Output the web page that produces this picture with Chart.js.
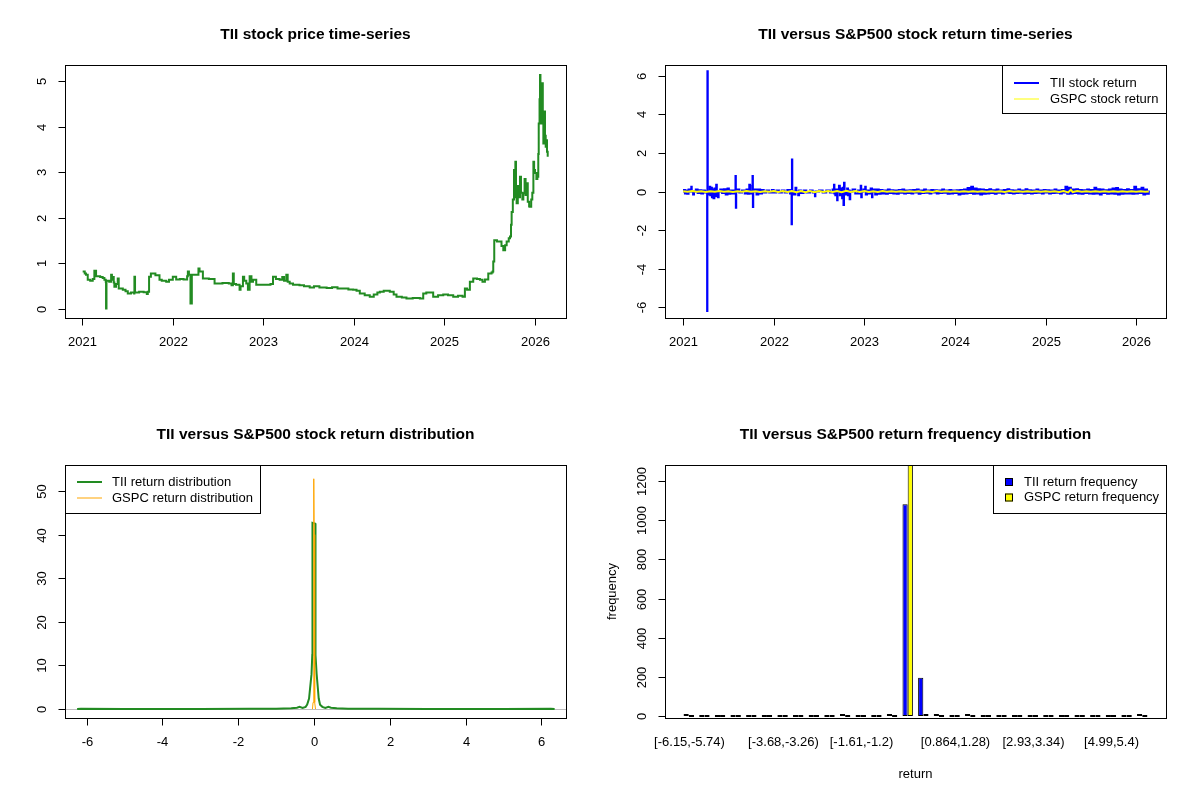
<!DOCTYPE html>
<html>
<head>
<meta charset="utf-8">
<title>TII versus S&amp;P500</title>
<script src="https://cdn.jsdelivr.net/npm/chart.js@4.4.1/dist/chart.umd.min.js"></script>
<style>
  html, body { margin: 0; padding: 0; background: #fff; }
  #wrap { position: relative; width: 1200px; height: 800px; }
  #wrap canvas { position: absolute; }
</style>
</head>
<body>
<div id="wrap">
  <canvas id="priceChart" width="600" height="400" style="left:0;top:0"></canvas>
  <canvas id="returnChart" width="600" height="400" style="left:600px;top:0"></canvas>
  <canvas id="densityChart" width="600" height="400" style="left:0;top:400px"></canvas>
  <canvas id="freqChart" width="600" height="400" style="left:600px;top:400px"></canvas>
</div>
<script>
"use strict";

// ---- price series: [decimal year, close] ----
const priceSeries = [
  [2021.007, 0.82], [2021.030, 0.78], [2021.044, 0.75], [2021.063, 0.64], [2021.090, 0.62],
  [2021.118, 0.66], [2021.136, 0.84], [2021.155, 0.72], [2021.200, 0.70], [2021.228, 0.68],
  [2021.247, 0.64], [2021.262, 0.60], [2021.265, 0.01], [2021.270, 0.62], [2021.300, 0.60],
  [2021.321, 0.75], [2021.330, 0.64], [2021.339, 0.70], [2021.350, 0.58], [2021.357, 0.49],
  [2021.375, 0.55], [2021.394, 0.67], [2021.405, 0.45], [2021.450, 0.42], [2021.480, 0.39],
  [2021.505, 0.34], [2021.540, 0.36], [2021.575, 0.34], [2021.578, 0.71], [2021.585, 0.36],
  [2021.630, 0.38], [2021.680, 0.37], [2021.715, 0.33], [2021.726, 0.38], [2021.740, 0.71],
  [2021.760, 0.78], [2021.810, 0.74], [2021.855, 0.64], [2021.880, 0.62], [2021.929, 0.60],
  [2021.960, 0.64], [2022.002, 0.71], [2022.039, 0.65], [2022.080, 0.66], [2022.120, 0.65],
  [2022.160, 0.72], [2022.168, 0.82], [2022.180, 0.75], [2022.197, 0.12], [2022.212, 0.75],
  [2022.285, 0.89], [2022.297, 0.82], [2022.334, 0.67], [2022.400, 0.66], [2022.463, 0.56],
  [2022.550, 0.57], [2022.620, 0.56], [2022.650, 0.52], [2022.665, 0.78], [2022.675, 0.55],
  [2022.700, 0.53], [2022.739, 0.42], [2022.750, 0.50], [2022.776, 0.71], [2022.790, 0.62],
  [2022.813, 0.56], [2022.831, 0.42], [2022.850, 0.72], [2022.870, 0.60], [2022.887, 0.64],
  [2022.923, 0.53], [2023.000, 0.53], [2023.080, 0.55], [2023.108, 0.71], [2023.140, 0.66],
  [2023.181, 0.64], [2023.210, 0.70], [2023.230, 0.62], [2023.255, 0.75], [2023.270, 0.60],
  [2023.292, 0.56], [2023.329, 0.53], [2023.400, 0.52], [2023.450, 0.50], [2023.513, 0.47],
  [2023.560, 0.50], [2023.620, 0.47], [2023.700, 0.46], [2023.760, 0.48], [2023.820, 0.45],
  [2023.881, 0.45], [2023.940, 0.43], [2023.992, 0.42], [2024.030, 0.40], [2024.066, 0.34],
  [2024.120, 0.30], [2024.176, 0.27], [2024.220, 0.32], [2024.260, 0.36], [2024.287, 0.38],
  [2024.330, 0.40], [2024.397, 0.38], [2024.440, 0.32], [2024.471, 0.27], [2024.530, 0.25],
  [2024.581, 0.23], [2024.650, 0.24], [2024.729, 0.23], [2024.766, 0.34], [2024.800, 0.36],
  [2024.876, 0.27], [2024.930, 0.30], [2024.987, 0.32], [2025.040, 0.30], [2025.097, 0.27],
  [2025.150, 0.29], [2025.200, 0.27], [2025.226, 0.45], [2025.250, 0.42], [2025.281, 0.60],
  [2025.318, 0.67], [2025.360, 0.66], [2025.392, 0.64], [2025.420, 0.60], [2025.447, 0.65],
  [2025.484, 0.78], [2025.520, 0.80], [2025.532, 0.82], [2025.539, 1.04], [2025.550, 1.51],
  [2025.580, 1.48], [2025.630, 1.38], [2025.650, 1.29], [2025.670, 1.40], [2025.687, 1.48],
  [2025.710, 1.55], [2025.724, 1.59], [2025.735, 1.85], [2025.742, 2.13], [2025.755, 2.40],
  [2025.768, 3.05], [2025.775, 2.50], [2025.783, 3.23], [2025.790, 2.45], [2025.797, 2.32],
  [2025.810, 2.70], [2025.822, 2.45], [2025.834, 2.90], [2025.845, 2.55], [2025.860, 2.40],
  [2025.871, 2.54], [2025.885, 2.85], [2025.896, 2.50], [2025.908, 2.76], [2025.920, 2.35],
  [2025.935, 2.25], [2025.945, 2.24], [2025.958, 2.40], [2025.970, 2.55], [2025.982, 3.23],
  [2025.990, 3.05], [2026.000, 2.98], [2026.015, 2.85], [2026.026, 2.90], [2026.036, 3.40],
  [2026.041, 4.07], [2026.050, 4.60], [2026.055, 5.13], [2026.060, 4.30], [2026.066, 4.07],
  [2026.073, 4.60], [2026.081, 4.95], [2026.086, 4.20], [2026.092, 3.63], [2026.098, 4.00],
  [2026.103, 4.33], [2026.110, 3.80], [2026.118, 3.56], [2026.125, 3.70], [2026.132, 3.45],
  [2026.140, 3.34]
];

// ---- daily returns: [decimal year, return] ----
const tiiReturnSeries = [
  [2021.000, 0], [2021.010, 0.08], [2021.020, -0.1], [2021.030, 0.05], [2021.045, -0.12],
  [2021.060, 0.1], [2021.075, 0], [2021.090, 0.25], [2021.095, 0], [2021.110, -0.15],
  [2021.120, 0], [2021.140, 0.1], [2021.160, -0.08], [2021.180, 0.06], [2021.200, -0.1],
  [2021.220, 0.05], [2021.240, -0.05], [2021.262, 0], [2021.265, -6.2], [2021.268, 6.25],
  [2021.272, 0], [2021.285, -0.15], [2021.295, 0.25], [2021.300, -0.2], [2021.310, 0.2],
  [2021.318, -0.3], [2021.325, 0.1], [2021.335, -0.35], [2021.345, 0.15], [2021.355, -0.25],
  [2021.365, 0.35], [2021.372, 0], [2021.385, -0.3], [2021.392, 0], [2021.410, 0.1],
  [2021.430, -0.08], [2021.450, 0.12], [2021.470, -0.15], [2021.490, 0.15], [2021.505, -0.12],
  [2021.520, 0.05], [2021.540, -0.1], [2021.560, 0.05], [2021.575, 0], [2021.578, 0.8],
  [2021.582, -0.85], [2021.586, 0], [2021.600, 0.1], [2021.620, -0.05], [2021.650, 0.05],
  [2021.680, -0.1], [2021.700, 0.1], [2021.715, -0.12], [2021.730, 0.35], [2021.738, 0],
  [2021.750, -0.1], [2021.762, 0.3], [2021.766, 0.8], [2021.770, -0.8], [2021.774, 0],
  [2021.790, 0.1], [2021.810, -0.15], [2021.830, 0.1], [2021.850, -0.1], [2021.870, 0.08],
  [2021.890, -0.05], [2021.920, 0.05], [2021.950, -0.05], [2021.980, 0.08], [2022.000, -0.05],
  [2022.030, 0.05], [2022.060, -0.05], [2022.090, 0.05], [2022.120, -0.05], [2022.150, 0.08],
  [2022.180, -0.1], [2022.194, 0], [2022.197, -1.7], [2022.201, 1.66], [2022.205, 0],
  [2022.220, -0.15], [2022.240, 0.2], [2022.250, 0], [2022.270, -0.2], [2022.280, 0.05],
  [2022.300, -0.08], [2022.330, 0.05], [2022.360, -0.05], [2022.400, 0.05], [2022.430, -0.05],
  [2022.455, -0.25], [2022.460, 0], [2022.500, 0.05], [2022.540, -0.05], [2022.580, 0.05],
  [2022.620, -0.05], [2022.650, 0.1], [2022.665, 0.35], [2022.670, -0.1], [2022.680, -0.2],
  [2022.690, 0.1], [2022.700, -0.45], [2022.705, 0], [2022.720, 0.3], [2022.730, -0.2],
  [2022.745, 0.15], [2022.755, -0.35], [2022.762, 0.2], [2022.770, -0.7], [2022.776, 0.45],
  [2022.782, 0], [2022.795, -0.15], [2022.810, 0.15], [2022.820, -0.2], [2022.830, 0.05],
  [2022.838, -0.4], [2022.845, 0], [2022.870, 0.1], [2022.900, -0.1], [2022.930, 0.05],
  [2022.950, -0.1], [2022.960, 0.3], [2022.966, -0.3], [2022.972, 0], [2022.990, 0.1],
  [2023.010, 0.25], [2023.016, -0.15], [2023.030, 0.05], [2023.050, -0.1], [2023.070, 0.15],
  [2023.085, -0.3], [2023.090, 0], [2023.100, 0.1], [2023.120, -0.15], [2023.140, 0.1],
  [2023.160, -0.12], [2023.18, 0.08], [2023.20, -0.1], [2023.22, 0.05], [2023.24, -0.12],
  [2023.26, 0.1], [2023.28, -0.08], [2023.30, 0.06], [2023.32, -0.1], [2023.34, 0.05],
  [2023.36, -0.12], [2023.38, 0.08], [2023.40, -0.06], [2023.42, 0.1], [2023.44, -0.1],
  [2023.46, 0.05], [2023.48, -0.08], [2023.50, 0.06], [2023.52, -0.1], [2023.54, 0.08],
  [2023.56, -0.05], [2023.58, 0.1], [2023.60, -0.12], [2023.62, 0.05], [2023.64, -0.08],
  [2023.66, 0.1], [2023.68, -0.06], [2023.70, 0.05], [2023.72, -0.1], [2023.74, 0.08],
  [2023.76, -0.05], [2023.78, 0.06], [2023.80, -0.1], [2023.82, 0.05], [2023.84, -0.08],
  [2023.86, 0.1], [2023.88, -0.06], [2023.90, 0.05], [2023.92, -0.12], [2023.94, 0.08],
  [2023.96, -0.1], [2023.98, 0.05], [2024.00, -0.08], [2024.02, 0.06], [2024.04, -0.15],
  [2024.06, 0.08], [2024.08, -0.12], [2024.10, 0.1], [2024.12, -0.1], [2024.14, 0.18],
  [2024.16, -0.08], [2024.18, 0.25], [2024.20, -0.12], [2024.22, 0.15], [2024.24, -0.1],
  [2024.26, 0.12], [2024.28, -0.15], [2024.30, 0.1], [2024.32, -0.12], [2024.34, 0.08],
  [2024.36, -0.1], [2024.38, 0.12], [2024.40, -0.08], [2024.42, 0.06], [2024.44, -0.12],
  [2024.46, 0.1], [2024.48, -0.06], [2024.50, 0.05], [2024.52, -0.1], [2024.54, 0.08],
  [2024.56, -0.05], [2024.58, 0.12], [2024.60, -0.08], [2024.62, 0.06], [2024.64, -0.1],
  [2024.66, 0.05], [2024.68, -0.08], [2024.70, 0.1], [2024.72, -0.06], [2024.74, 0.05],
  [2024.76, -0.1], [2024.78, 0.12], [2024.80, -0.08], [2024.82, 0.06], [2024.84, -0.1],
  [2024.86, 0.05], [2024.88, -0.08], [2024.90, 0.1], [2024.92, -0.06], [2024.94, 0.05],
  [2024.96, -0.1], [2024.98, 0.08], [2025.00, -0.05], [2025.02, 0.06], [2025.04, -0.1],
  [2025.06, 0.05], [2025.08, -0.08], [2025.10, 0.1], [2025.12, -0.06], [2025.14, 0.05],
  [2025.16, -0.1], [2025.18, 0.08], [2025.20, -0.05], [2025.22, 0.25], [2025.24, -0.12],
  [2025.26, 0.2], [2025.28, -0.1], [2025.30, 0.1], [2025.32, -0.08], [2025.34, 0.12],
  [2025.36, -0.1], [2025.38, 0.08], [2025.40, -0.12], [2025.42, 0.06], [2025.44, -0.08],
  [2025.46, 0.1], [2025.48, -0.1], [2025.50, 0.08], [2025.52, -0.12], [2025.54, 0.2],
  [2025.56, -0.1], [2025.58, 0.12], [2025.60, -0.15], [2025.62, 0.1], [2025.64, -0.08],
  [2025.66, 0.06], [2025.68, -0.12], [2025.70, 0.1], [2025.72, -0.1], [2025.74, 0.15],
  [2025.76, -0.12], [2025.78, 0.18], [2025.80, -0.15], [2025.82, 0.1], [2025.84, -0.12],
  [2025.86, 0.08], [2025.88, -0.1], [2025.90, 0.12], [2025.92, -0.1], [2025.94, 0.08],
  [2025.96, -0.12], [2025.98, 0.25], [2026.00, -0.1], [2026.02, 0.12], [2026.04, -0.08],
  [2026.06, 0.2], [2026.08, -0.15], [2026.10, 0.1], [2026.12, -0.12], [2026.14, 0.05]
];

const gspcReturnSeries = [
  [2021.00, 0.01], [2021.05, -0.015], [2021.10, 0.02], [2021.15, -0.01], [2021.20, 0.015],
  [2021.25, -0.02], [2021.30, 0.01], [2021.35, -0.01], [2021.40, 0.02], [2021.45, -0.015],
  [2021.50, 0.01], [2021.55, -0.02], [2021.60, 0.015], [2021.65, -0.01], [2021.70, 0.02],
  [2021.75, -0.015], [2021.80, 0.01], [2021.85, -0.02], [2021.90, 0.015], [2021.95, -0.01],
  [2022.00, 0.02], [2022.05, -0.03], [2022.10, 0.025], [2022.15, -0.03], [2022.20, 0.03],
  [2022.25, -0.035], [2022.30, 0.025], [2022.35, -0.04], [2022.40, 0.03], [2022.45, -0.035],
  [2022.50, 0.03], [2022.55, -0.025], [2022.60, 0.03], [2022.65, -0.03], [2022.70, 0.025],
  [2022.75, -0.035], [2022.80, 0.04], [2022.85, -0.03], [2022.90, 0.03], [2022.95, -0.025],
  [2023.00, 0.02], [2023.05, -0.02], [2023.10, 0.015], [2023.15, -0.02], [2023.20, 0.02],
  [2023.25, -0.015], [2023.30, 0.01], [2023.35, -0.015], [2023.40, 0.015], [2023.45, -0.01],
  [2023.50, 0.01], [2023.55, -0.015], [2023.60, 0.01], [2023.65, -0.02], [2023.70, 0.015],
  [2023.75, -0.02], [2023.80, 0.02], [2023.85, -0.015], [2023.90, 0.015], [2023.95, -0.01],
  [2024.00, 0.01], [2024.05, -0.01], [2024.10, 0.015], [2024.15, -0.01], [2024.20, 0.01],
  [2024.25, -0.015], [2024.30, 0.01], [2024.35, -0.01], [2024.40, 0.015], [2024.45, -0.01],
  [2024.50, 0.01], [2024.55, -0.02], [2024.60, 0.025], [2024.65, -0.015], [2024.70, 0.01],
  [2024.75, -0.01], [2024.80, 0.015], [2024.85, -0.01], [2024.90, 0.01], [2024.95, -0.015],
  [2025.00, 0.015], [2025.05, -0.01], [2025.10, 0.015], [2025.15, -0.02], [2025.20, 0.02],
  [2025.25, -0.05], [2025.28, 0.09], [2025.30, -0.03], [2025.35, 0.02], [2025.40, -0.015],
  [2025.45, 0.01], [2025.50, -0.01], [2025.55, 0.01], [2025.60, -0.01], [2025.65, 0.015],
  [2025.70, -0.01], [2025.75, 0.01], [2025.80, -0.015], [2025.85, 0.015], [2025.90, -0.01],
  [2025.95, 0.01], [2026.00, -0.01], [2026.05, 0.015], [2026.10, -0.01], [2026.14, 0.005]
];

// ---- kernel densities: [return, density] ----
const tiiDensity = [
  [-6.25, 0], [-6.15, 0.05], [-5.0, 0.02], [-3.0, 0.02], [-1.7, 0.05], [-1.0, 0.08],
  [-0.6, 0.15], [-0.45, 0.3], [-0.38, 0.5], [-0.3, 0.25], [-0.22, 0.5], [-0.18, 1.0],
  [-0.13, 2.4], [-0.1, 5.0], [-0.065, 8.0], [-0.045, 12.4], [-0.04, 42.7], [0.035, 42.5],
  [0.04, 12.4], [0.07, 8.0], [0.1, 5.0], [0.125, 2.4], [0.16, 1.0], [0.22, 0.5],
  [0.3, 0.25], [0.38, 0.5], [0.45, 0.3], [0.6, 0.15], [0.9, 0.08], [1.7, 0.05],
  [3.0, 0.02], [5.0, 0.02], [6.25, 0.05], [6.35, 0]
];

const gspcDensity = [
  [-0.04, 0], [-0.025, 1.5], [-0.012, 12], [-0.005, 40], [0, 52.8],
  [0.005, 40], [0.012, 12], [0.025, 1.5], [0.04, 0]
];

// ---- frequency table (30 bins of width ~0.413) ----
const binLabels = [
  '[-6.15,-5.74)', '[-5.74,-5.33)', '[-5.33,-4.91)', '[-4.91,-4.5)', '[-4.5,-4.09)',
  '[-4.09,-3.68)', '[-3.68,-3.26)', '[-3.26,-2.85)', '[-2.85,-2.44)', '[-2.44,-2.03)',
  '[-2.03,-1.61)', '[-1.61,-1.2)', '[-1.2,-0.787)', '[-0.787,-0.374)', '[-0.374,0.039)',
  '[0.039,0.452)', '[0.452,0.864)', '[0.864,1.28)', '[1.28,1.69)', '[1.69,2.1)',
  '[2.1,2.52)', '[2.52,2.93)', '[2.93,3.34)', '[3.34,3.75)', '[3.75,4.17)',
  '[4.17,4.58)', '[4.58,4.99)', '[4.99,5.4)', '[5.4,5.82)', '[5.82,6.23]'
];
const shownBins = [0, 6, 11, 17, 22, 27];
const tiiFreq  = [1, 0, 0, 0, 0, 0, 0, 0, 0, 0, 1, 0, 0, 7, 1081, 195, 8, 0, 1, 0, 0, 0, 0, 0, 0, 0, 0, 0, 0, 1];
const gspcFreq = [0, 0, 0, 0, 0, 0, 0, 0, 0, 0, 0, 0, 0, 0, 1290, 5, 0, 0, 0, 0, 0, 0, 0, 0, 0, 0, 0, 0, 0, 0];

// ---- tick values ----
const yearTicks = [2021, 2022, 2023, 2024, 2025, 2026];
const priceTicks = [0, 1, 2, 3, 4, 5];
const returnTicks = [-6, -4, -2, 0, 2, 4, 6];
const densityXTicks = [-6, -4, -2, 0, 2, 4, 6];
const densityYTicks = [0, 10, 20, 30, 40, 50];
const freqTicks = [0, 200, 400, 600, 800, 1000, 1200];

const FONT = '"Liberation Sans", Arial, sans-serif';
const GREEN = '#228B22', BLUE = '#0000FF', YELLOW = '#FFFF00', ORANGE = '#FFA500';

// R-style frame: box, outward ticks, rotated y labels, title, legend
const rFrame = {
    id: 'rFrame',
    beforeDatasetsDraw(chart, args, opts) {
        if (!opts.zeroLine) return;
        const ctx = chart.ctx, a = chart.chartArea;
        const y = Math.round(chart.scales.y.getPixelForValue(0)) + 0.5;
        ctx.save();
        ctx.strokeStyle = '#bebebe';
        ctx.lineWidth = 1;
        ctx.beginPath();
        ctx.moveTo(a.left, y);
        ctx.lineTo(a.right, y);
        ctx.stroke();
        ctx.restore();
    },
    afterDraw(chart, args, opts) {
        const ctx = chart.ctx, a = chart.chartArea;
        const xs = chart.scales.x, ys = chart.scales.y;
        const L = Math.round(a.left) + 0.5, R = Math.round(a.right) + 0.5;
        const T = Math.round(a.top) + 0.5, B = Math.round(a.bottom) + 0.5;
        const seg = (x1, y1, x2, y2) => { ctx.beginPath(); ctx.moveTo(x1, y1); ctx.lineTo(x2, y2); ctx.stroke(); };

        ctx.save();
        ctx.strokeStyle = '#000';
        ctx.fillStyle = '#000';
        ctx.lineWidth = 1;
        ctx.strokeRect(L, T, R - L, B - T);

        ctx.textAlign = 'center';
        ctx.textBaseline = 'middle';
        ctx.font = 'bold 15.5px ' + FONT;
        ctx.fillText(opts.title, (a.left + a.right) / 2, 35);

        ctx.font = '13px ' + FONT;
        xs.ticks.forEach(t => {
            const x = Math.round(xs.getPixelForValue(t.value)) + 0.5;
            if (opts.xTickMarks !== false) seg(x, B, x, B + 7);
            const lab = opts.xLabels ? opts.xLabels[t.value] : String(t.value);
            if (lab) ctx.fillText(lab, x, a.bottom + 24);
        });
        ys.ticks.forEach(t => {
            const y = Math.round(ys.getPixelForValue(t.value)) + 0.5;
            seg(L - 7, y, L, y);
            ctx.save();
            ctx.translate(a.left - 23, y);
            ctx.rotate(-Math.PI / 2);
            ctx.fillText(String(t.value), 0, 0);
            ctx.restore();
        });
        if (opts.xTitle) ctx.fillText(opts.xTitle, (a.left + a.right) / 2, a.bottom + 56);
        if (opts.yTitle) {
            ctx.save();
            ctx.translate(a.left - 53, (a.top + a.bottom) / 2);
            ctx.rotate(-Math.PI / 2);
            ctx.fillText(opts.yTitle, 0, 0);
            ctx.restore();
        }

        const lg = opts.legend;
        if (lg) {
            const lx0 = lg.left + 0.5, lx1 = lg.right + 0.5;
            ctx.fillStyle = '#fff';
            ctx.fillRect(lx0, T, lx1 - lx0, lg.bottom - T);
            ctx.strokeStyle = '#000';
            ctx.strokeRect(lx0, T, lx1 - lx0, lg.bottom - T);
            ctx.textAlign = 'left';
            lg.items.forEach((it, i) => {
                const y = lg.rows[i];
                if (it.kind === 'box') {
                    ctx.fillStyle = it.color;
                    ctx.fillRect(lg.symX0, y - 4, 8, 8);
                    ctx.strokeStyle = '#000';
                    ctx.strokeRect(lg.symX0 + 0.5, y - 3.5, 7, 7);
                } else {
                    ctx.strokeStyle = it.color;
                    ctx.lineWidth = it.width;
                    seg(lg.symX0, y, lg.symX1, y);
                    ctx.lineWidth = 1;
                }
                ctx.fillStyle = '#000';
                ctx.fillText(it.label, lg.textX, y);
            });
        }
        ctx.restore();
    }
};
Chart.register(rFrame);

function axis(min, max, ticks) {
    return {
        type: 'linear',
        min: min,
        max: max,
        offset: false,
        ticks: { display: false },
        grid: { display: false, offset: false },
        border: { display: false },
        afterBuildTicks: s => { s.ticks = ticks.map(v => ({ value: v })); },
        afterFit: s => { if (s.isHorizontal()) s.height = 82; else s.width = 65; }
    };
}

function baseOptions(scales, frame) {
    return {
        responsive: false,
        animation: false,
        devicePixelRatio: 1,
        layout: { padding: { top: 65, right: 34, left: 0, bottom: 0 } },
        plugins: { legend: { display: false }, tooltip: { enabled: false }, rFrame: frame },
        scales: scales
    };
}

// 1. price time-series
new Chart(document.getElementById('priceChart'), {
    type: 'line',
    data: {
        datasets: [{
            data: priceSeries,
            borderColor: GREEN,
            borderWidth: 2,
            stepped: true,
            pointRadius: 0
        }]
    },
    options: baseOptions(
        { x: axis(2020.812, 2026.342, yearTicks), y: axis(-0.197, 5.351, priceTicks) },
        { title: 'TII stock price time-series' }
    )
});

// 2. return time-series
new Chart(document.getElementById('returnChart'), {
    type: 'line',
    data: {
        datasets: [{
            data: gspcReturnSeries,
            borderColor: YELLOW,
            borderWidth: 2,
            pointRadius: 0,
            order: 0
        }, {
            data: tiiReturnSeries,
            borderColor: BLUE,
            borderWidth: 2,
            stepped: true,
            pointRadius: 0,
            order: 1
        }]
    },
    options: baseOptions(
        { x: axis(2020.80, 2026.33, yearTicks), y: axis(-6.57, 6.57, returnTicks) },
        {
            title: 'TII versus S&P500 stock return time-series',
            legend: {
                left: 402, right: 566, bottom: 113.5, symX0: 414, symX1: 439, textX: 450, rows: [83, 99],
                items: [
                    { label: 'TII stock return', color: BLUE, width: 2 },
                    { label: 'GSPC stock return', color: YELLOW, width: 1 }
                ]
            }
        }
    )
});

// 3. return density
new Chart(document.getElementById('densityChart'), {
    type: 'line',
    data: {
        datasets: [{
            data: gspcDensity,
            borderColor: ORANGE,
            borderWidth: 1,
            pointRadius: 0,
            order: 0
        }, {
            data: tiiDensity,
            borderColor: GREEN,
            borderWidth: 2,
            pointRadius: 0,
            order: 1
        }]
    },
    options: baseOptions(
        { x: axis(-6.57, 6.65, densityXTicks), y: axis(-2.06, 55.96, densityYTicks) },
        {
            title: 'TII versus S&P500 stock return distribution',
            zeroLine: true,
            legend: {
                left: 65, right: 260, bottom: 113.5, symX0: 77, symX1: 102, textX: 112, rows: [82, 98],
                items: [
                    { label: 'TII return distribution', color: GREEN, width: 2 },
                    { label: 'GSPC return distribution', color: ORANGE, width: 1 }
                ]
            }
        }
    )
});

// 4. frequency bar chart
new Chart(document.getElementById('freqChart'), {
    type: 'bar',
    data: {
        datasets: [{
            data: tiiFreq.map((v, i) => ({ x: i, y: v })),
            backgroundColor: BLUE
        }, {
            data: gspcFreq.map((v, i) => ({ x: i, y: v })),
            backgroundColor: YELLOW
        }]
    },
    options: Object.assign(baseOptions(
        { x: axis(-1.52, 30.52, shownBins), y: axis(-10.2, 1281.7, freqTicks) },
        {
            title: 'TII versus S&P500 return frequency distribution',
            xTickMarks: false,
            xLabels: binLabels,
            xTitle: 'return',
            yTitle: 'frequency',
            legend: {
                left: 393, right: 566, bottom: 113.5, symX0: 405, textX: 424, rows: [82, 97.5],
                items: [
                    { label: 'TII return frequency', color: BLUE, kind: 'box' },
                    { label: 'GSPC return frequency', color: YELLOW, kind: 'box' }
                ]
            }
        }
    ), {
        datasets: {
            bar: {
                categoryPercentage: 2 / 3,
                barPercentage: 1,
                borderColor: '#000',
                borderWidth: 1,
                borderSkipped: false,
                minBarLength: 2
            }
        }
    })
});
</script>
</body>
</html>
